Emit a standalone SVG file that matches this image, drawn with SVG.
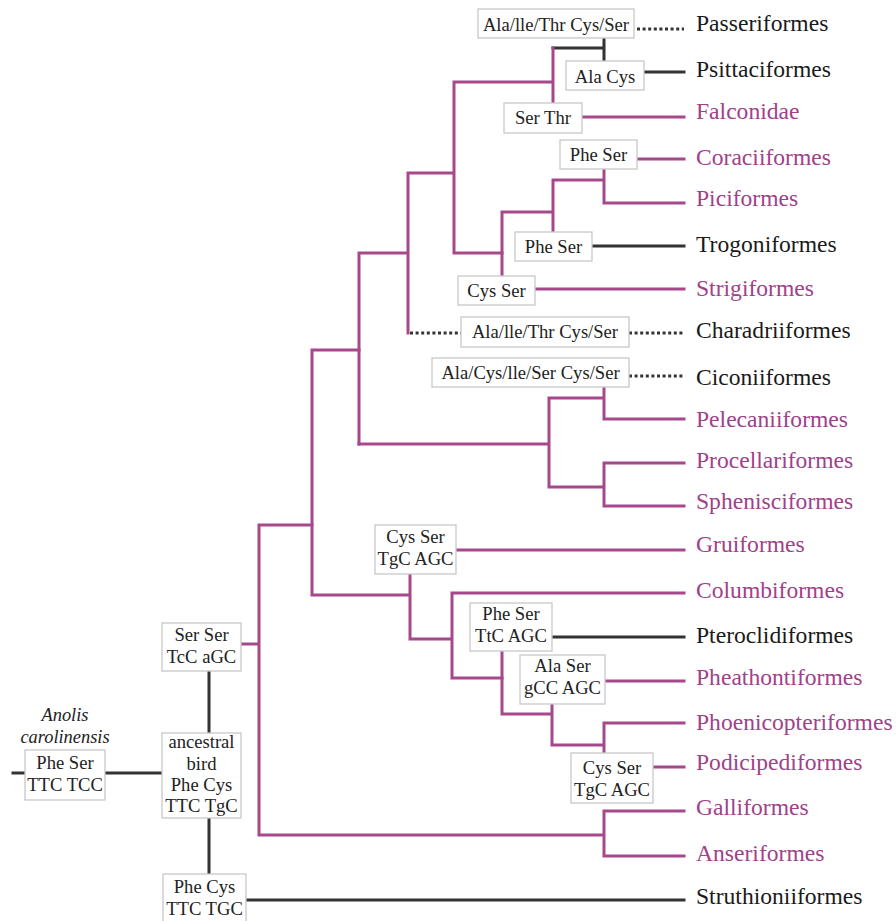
<svg xmlns="http://www.w3.org/2000/svg" width="896" height="921" viewBox="0 0 896 921">
<style>
.m{fill:none;stroke:#a6488c;stroke-width:3;stroke-linecap:square}
.d{fill:none;stroke:#333;stroke-width:3;stroke-linecap:square}
.dot{fill:none;stroke:#333;stroke-width:3;stroke-dasharray:3 2.6}
.box{fill:#fff;stroke:#c8c8c8;stroke-width:1.3}
.bt{font-family:"Liberation Serif","Times New Roman",serif;font-size:18.6px;fill:#222;text-anchor:middle}
.tx{font-family:"Liberation Serif","Times New Roman",serif;font-size:23.6px}
.tm{fill:#a0418a}
.tk{fill:#1a1a1a}
.it{font-family:"Liberation Serif","Times New Roman",serif;font-size:18.4px;font-style:italic;fill:#222;text-anchor:middle}
</style>
<g id="connectors">
<path class="d" d="M13,773H25M105,773H162M209,671V733M209,818V874M246,900H684"/>
<path class="d" d="M553,48H604M604,38V61M644,72H684M592,246H684M552,637H684"/>
<path class="dot" d="M637,29H684M410,333H461M629,333H684M629,376H684"/>
<path class="m" d="M241,644H259M312,525H259V835H604M604,811V856M604,811H684M604,856H684"/>
<path class="m" d="M359,350H312V595H410M410,574V639H452M452,593V678H502M452,593H684M456,550H684"/>
<path class="m" d="M502,651V714H552M552,704V745H604M604,723V753M604,723H684M653,767H684M605,681H684"/>
<path class="m" d="M359,253V444M359,253H408M408,173V333M408,173H454M454,82V253H502M454,82H553M553,48V103M582,117H684"/>
<path class="m" d="M502,212V276M502,212H553M553,180V232M553,180H604M604,169V203H684M637,159H684M535,289H684"/>
<path class="m" d="M359,444H549M549,398V487M549,398H604M604,387V419H684M549,487H604M604,463V506M604,463H684M604,506H684"/>
</g>
<g id="anolis">
<text class="it" x="65" y="721">Anolis</text>
<text class="it" x="65" y="743">carolinensis</text>
<rect class="box" x="25" y="750" width="80" height="50"/>
<text class="bt" x="65" y="769">Phe Ser</text>
<text class="bt" x="65" y="791">TTC TCC</text>
</g>
<g id="ancestral">
<rect class="box" x="162" y="733" width="79" height="85"/>
<text class="bt" x="201.5" y="748">ancestral</text>
<text class="bt" x="201.5" y="770">bird</text>
<text class="bt" x="201.5" y="791">Phe Cys</text>
<text class="bt" x="201.5" y="812">TTC TgC</text>
</g>
<g id="serser">
<rect class="box" x="162" y="623" width="79" height="48"/>
<text class="bt" x="201.5" y="641">Ser Ser</text>
<text class="bt" x="201.5" y="663">TcC aGC</text>
</g>
<g id="struthio-node">
<rect class="box" x="163" y="874" width="83" height="52"/>
<text class="bt" x="204.5" y="893">Phe Cys</text>
<text class="bt" x="204.5" y="915">TTC TGC</text>
</g>
<g id="passer-node">
<rect class="box" x="478" y="9" width="156" height="29"/>
<text class="bt" x="556" y="31">Ala/lle/Thr Cys/Ser</text>
</g>
<g id="psitta-node">
<rect class="box" x="566" y="61" width="78" height="29"/>
<text class="bt" x="605" y="83">Ala Cys</text>
</g>
<g id="falcon-node">
<rect class="box" x="504" y="103" width="78" height="30"/>
<text class="bt" x="543" y="124">Ser Thr</text>
</g>
<g id="coracii-node">
<rect class="box" x="560" y="140" width="77" height="29"/>
<text class="bt" x="598.5" y="161">Phe Ser</text>
</g>
<g id="trogon-node">
<rect class="box" x="515" y="232" width="77" height="29"/>
<text class="bt" x="553.5" y="253">Phe Ser</text>
</g>
<g id="strigi-node">
<rect class="box" x="458" y="276" width="77" height="29"/>
<text class="bt" x="496.5" y="297">Cys Ser</text>
</g>
<g id="charadrii-node">
<rect class="box" x="461" y="317" width="168" height="30"/>
<text class="bt" x="545" y="338">Ala/lle/Thr Cys/Ser</text>
</g>
<g id="ciconii-node">
<rect class="box" x="432" y="358" width="197" height="29"/>
<text class="bt" x="530.5" y="379">Ala/Cys/lle/Ser Cys/Ser</text>
</g>
<g id="grui-node">
<rect class="box" x="375" y="525" width="81" height="49"/>
<text class="bt" x="415.5" y="543">Cys Ser</text>
<text class="bt" x="415.5" y="565">TgC AGC</text>
</g>
<g id="pteroclid-node">
<rect class="box" x="470" y="603" width="82" height="48"/>
<text class="bt" x="511" y="620">Phe Ser</text>
<text class="bt" x="511" y="642">TtC AGC</text>
</g>
<g id="pheathont-node">
<rect class="box" x="520" y="655" width="85" height="49"/>
<text class="bt" x="562.5" y="672">Ala Ser</text>
<text class="bt" x="562.5" y="694">gCC AGC</text>
</g>
<g id="podiciped-node">
<rect class="box" x="571" y="753" width="82" height="50"/>
<text class="bt" x="612" y="774">Cys Ser</text>
<text class="bt" x="612" y="796">TgC AGC</text>
</g>
<g id="taxa" class="tx">
<text class="tk" x="696" y="31">Passeriformes</text>
<text class="tk" x="696" y="77">Psittaciformes</text>
<text class="tm" x="696" y="119">Falconidae</text>
<text class="tm" x="696" y="165">Coraciiformes</text>
<text class="tm" x="696" y="206">Piciformes</text>
<text class="tk" x="696" y="252">Trogoniformes</text>
<text class="tm" x="696" y="296">Strigiformes</text>
<text class="tk" x="696" y="338">Charadriiformes</text>
<text class="tk" x="696" y="385">Ciconiiformes</text>
<text class="tm" x="696" y="427">Pelecaniiformes</text>
<text class="tm" x="696" y="468">Procellariformes</text>
<text class="tm" x="696" y="509">Sphenisciformes</text>
<text class="tm" x="696" y="552">Gruiformes</text>
<text class="tm" x="696" y="598">Columbiformes</text>
<text class="tk" x="696" y="643">Pteroclidiformes</text>
<text class="tm" x="696" y="685">Pheathontiformes</text>
<text class="tm" x="696" y="730">Phoenicopteriformes</text>
<text class="tm" x="696" y="770">Podicipediformes</text>
<text class="tm" x="696" y="815">Galliformes</text>
<text class="tm" x="696" y="861">Anseriformes</text>
<text class="tk" x="696" y="904">Struthioniiformes</text>
</g>
</svg>
